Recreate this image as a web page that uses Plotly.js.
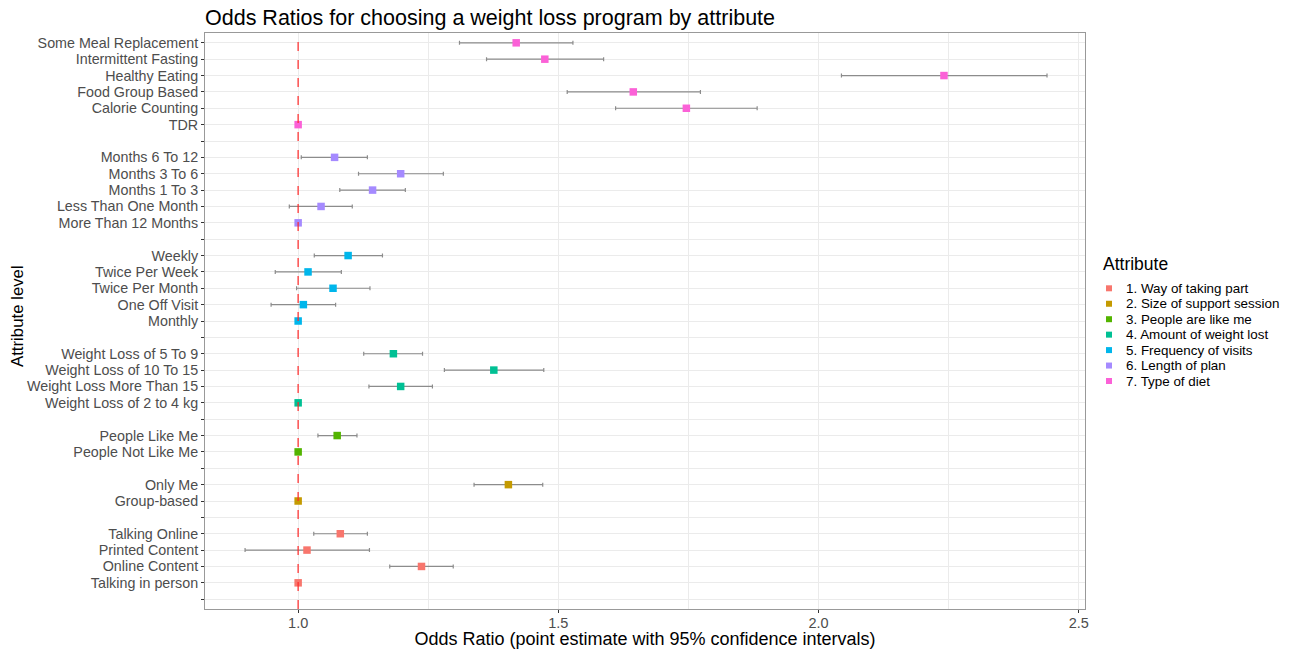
<!DOCTYPE html>
<html>
<head>
<meta charset="utf-8">
<script src="https://cdn.plot.ly/plotly-3.0.1.min.js"></script>
<style>html,body{margin:0;padding:0;background:#fff}#chart{width:1301px;height:649px}</style>
</head>
<body>
<div id="chart"></div>
<script>
// Attribute levels from top to bottom ('' = spacer row)
const levels = [
  'Some Meal Replacement','Intermittent Fasting','Healthy Eating','Food Group Based','Calorie Counting','TDR','',
  'Months 6 To 12','Months 3 To 6','Months 1 To 3','Less Than One Month','More Than 12 Months','',
  'Weekly','Twice Per Week','Twice Per Month','One Off Visit','Monthly','',
  'Weight Loss of 5 To 9','Weight Loss of 10 To 15','Weight Loss More Than 15','Weight Loss of 2 to 4 kg','',
  'People Like Me','People Not Like Me','',
  'Only Me','Group-based','',
  'Talking Online','Printed Content','Online Content','Talking in person',''
];
const groupOf = [
  7,7,7,7,7,7,null,
  6,6,6,6,6,null,
  5,5,5,5,5,null,
  4,4,4,4,null,
  3,3,null,
  2,2,null,
  1,1,1,1,null
];
const oddsRatio = [
  1.419,1.474,2.241,1.644,1.746,1.000,null,
  1.070,1.197,1.143,1.044,1.000,null,
  1.096,1.019,1.067,1.010,1.000,null,
  1.183,1.376,1.197,1.000,null,
  1.075,1.000,null,
  1.404,1.000,null,
  1.081,1.017,1.237,1.000,null
];
const ciLow = [
  1.310,1.362,2.044,1.517,1.610,1.000,null,
  1.006,1.116,1.080,0.983,1.000,null,
  1.031,0.956,0.997,0.948,1.000,null,
  1.126,1.281,1.136,1.000,null,
  1.038,1.000,null,
  1.338,1.000,null,
  1.030,0.898,1.176,1.000,null
];
const ciHigh = [
  1.528,1.587,2.439,1.773,1.882,1.000,null,
  1.133,1.279,1.206,1.104,1.000,null,
  1.162,1.083,1.138,1.072,1.000,null,
  1.239,1.472,1.258,1.000,null,
  1.113,1.000,null,
  1.470,1.000,null,
  1.133,1.137,1.298,1.000,null
];
const groupNames = ['1. Way of taking part','2. Size of support session','3. People are like me',
  '4. Amount of weight lost','5. Frequency of visits','6. Length of plan','7. Type of diet'];
const groupColors = ['#F8766D','#C49A00','#53B400','#00C094','#00B6EB','#A58AFF','#FB61D7'];
const legendTitle = 'Attribute';
const xTickVals = [1.0, 1.5, 2.0, 2.5];
const xTickText = ['1.0', '1.5', '2.0', '2.5'];

const W = 1301, H = 649;
const M = {l: 205, r: 216, t: 33, b: 40};
const PW = W - M.l - M.r, PH = H - M.t - M.b;
const n = levels.length;
const yPos = levels.map((_, i) => n - i);

const traces = groupNames.map((name, gi) => {
  const idx = [];
  groupOf.forEach((g, i) => { if (g === gi + 1) idx.push(i); });
  return {
    type: 'scatter', mode: 'markers', name: name, showlegend: false,
    x: idx.map(i => oddsRatio[i]),
    y: idx.map(i => yPos[i]),
    marker: {symbol: 'square', size: 7.5, color: groupColors[gi]},
    error_x: {
      type: 'data', symmetric: false,
      array: idx.map(i => ciHigh[i] - oddsRatio[i]),
      arrayminus: idx.map(i => oddsRatio[i] - ciLow[i]),
      color: '#8C8C8C', thickness: 1.2, width: 2
    },
    hoverinfo: 'x+y+name'
  };
});

const font = 'Liberation Sans, Arial, Helvetica, sans-serif';

// helpers: figure pixel -> plot-area paper coords
const fx = x => (x - M.l) / PW;
const fy = y => (H - M.b - y) / PH;

const annotations = [
  {text: legendTitle, xref: 'paper', yref: 'paper', x: fx(1101), y: fy(264),
   xanchor: 'left', yanchor: 'middle', showarrow: false, font: {size: 17.5, color: '#000'}},
  {text: 'Attribute level', xref: 'paper', yref: 'paper', x: fx(17), y: fy(316),
   xanchor: 'center', yanchor: 'middle', textangle: -90, showarrow: false,
   font: {size: 16.8, color: '#000'}}
];
const shapes = [{type: 'line', xref: 'x', yref: 'paper', x0: 1, x1: 1, y0: 0, y1: 1,
  line: {color: 'rgba(255,40,40,0.75)', width: 1.6, dash: 'dash'}}];
const legRow0 = 288.3, legStep = 15.45;
groupNames.forEach((name, gi) => {
  const cy = legRow0 + gi * legStep;
  annotations.push({
    text: name, xref: 'paper', yref: 'paper', x: fx(1124), y: fy(cy),
    xanchor: 'left', yanchor: 'middle', showarrow: false, font: {size: 13.4, color: '#000'}
  });
  shapes.push({
    type: 'rect', xref: 'paper', yref: 'paper',
    x0: fx(1106), x1: fx(1112), y0: fy(cy + 3), y1: fy(cy - 3),
    fillcolor: groupColors[gi], line: {width: 0}
  });
});

const layout = {
  width: W, height: H,
  margin: {l: M.l, r: M.r, t: M.t, b: M.b, autoexpand: false},
  paper_bgcolor: '#fff', plot_bgcolor: '#fff',
  font: {family: font, color: '#000'},
  title: {text: 'Odds Ratios for choosing a weight loss program by attribute',
    font: {size: 21.5, color: '#000', family: font},
    x: 205/W, xanchor: 'left', y: 1 - 17/H, yanchor: 'middle'},
  xaxis: {
    range: [0.821, 2.512], tickvals: xTickVals, ticktext: xTickText,
    showgrid: true, gridcolor: '#EBEBEB', gridwidth: 1,
    minor: {tickvals: [1.25, 1.75, 2.25], showgrid: true, gridcolor: '#EBEBEB', gridwidth: 1, ticks: ''},
    ticks: 'outside', ticklen: 3, tickcolor: '#333', tickfont: {size: 14.5, color: '#4D4D4D'},
    ticklabelstandoff: -2,
    showline: true, linecolor: '#999', mirror: true, linewidth: 1, zeroline: false,
    title: {text: 'Odds Ratio (point estimate with 95% confidence intervals)', font: {size: 18, color: '#000'}, standoff: 6}
  },
  yaxis: {
    range: [0.4, n + 0.6], tickvals: yPos, ticktext: levels,
    showgrid: true, gridcolor: '#EBEBEB', gridwidth: 1,
    ticks: 'outside', ticklen: 3, tickcolor: '#333', tickfont: {size: 14.3, color: '#4D4D4D'},
    showline: true, linecolor: '#999', mirror: true, linewidth: 1, zeroline: false
  },
  shapes: shapes,
  annotations: annotations,
  showlegend: false
};

Plotly.newPlot('chart', traces, layout, {displayModeBar: false, responsive: false});
</script>
</body>
</html>
